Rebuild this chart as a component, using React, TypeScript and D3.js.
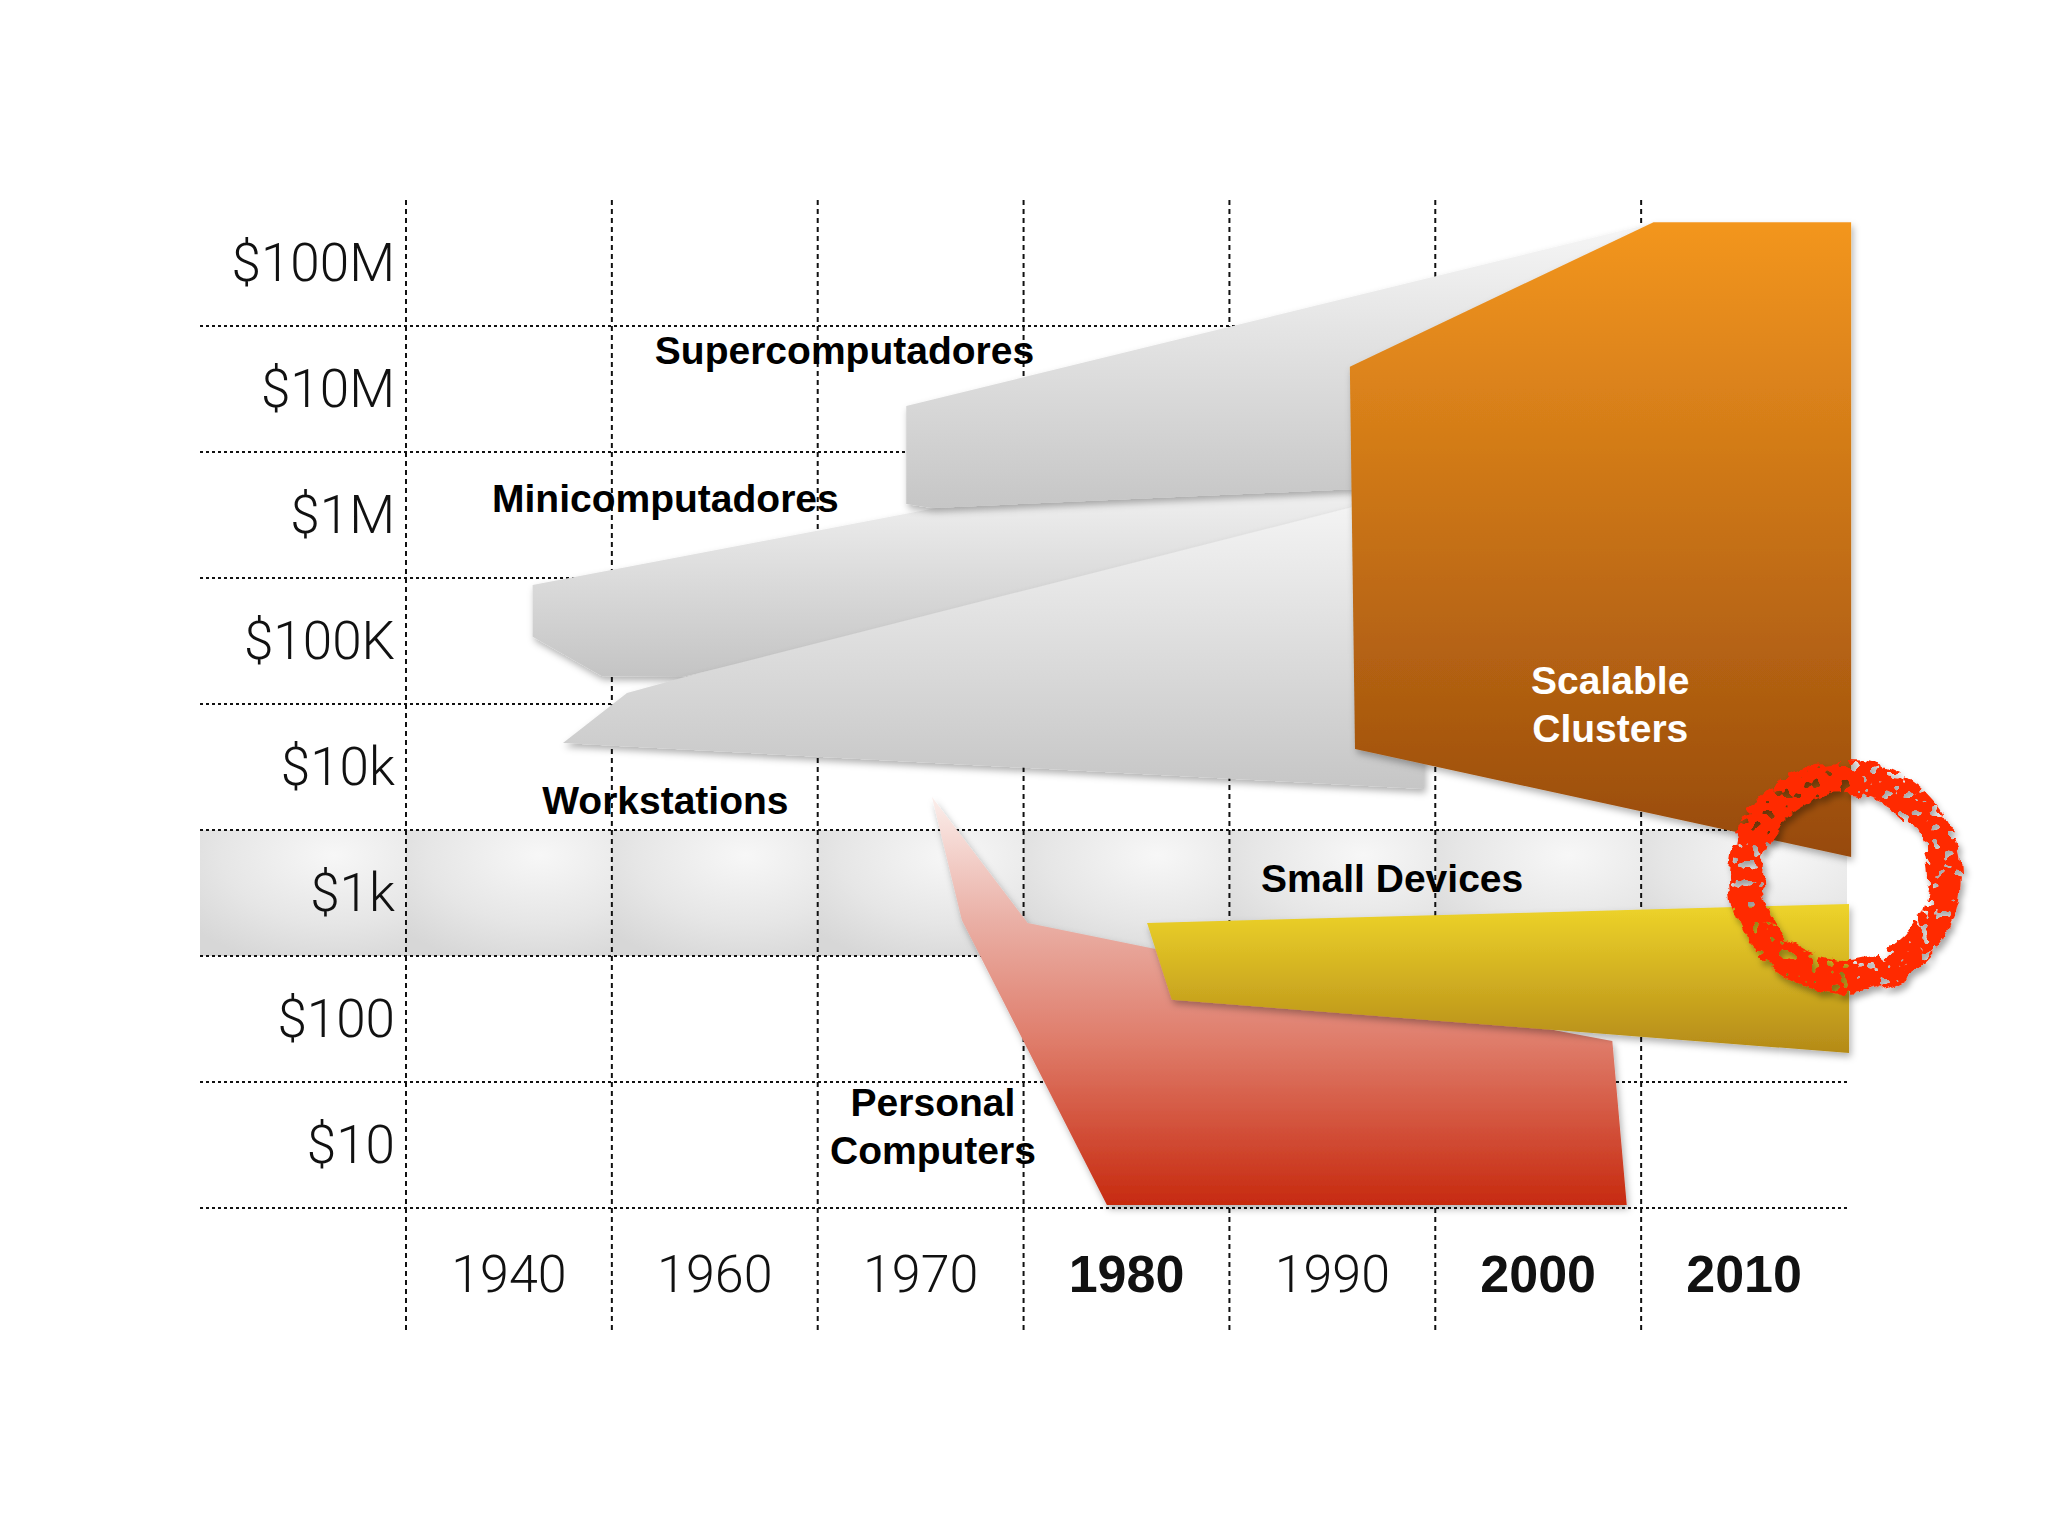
import React from "react";
import * as d3 from "d3";

// ---------- data ----------
const YEAR_BREAKS = [1930, 1950, 1965, 1975, 1985, 1995, 2005, 2015];
const YEAR_LABELS = ["1940", "1960", "1970", "1980", "1990", "2000", "2010"];
const YEAR_BOLD = [false, false, false, true, false, true, true];
const PRICE_LABELS = ["$100M", "$10M", "$1M", "$100K", "$10k", "$1k", "$100", "$10"];
const PRICE_VALUES = [1e8, 1e7, 1e6, 1e5, 1e4, 1e3, 1e2, 1e1];
const HIGHLIGHT_PRICE = 1e3;

// polygons: [year, price in $]
const MINICOMPUTERS: [number, number][] = [
  [1942.3, 2.78e5], [1973.85, 1.42e6], [1991.3, 1.9e6], [1991.3, 9.12e5],
  [1955.1, 5.18e4], [1949.0, 5.27e4], [1942.3, 1.08e5],
];
const WORKSTATIONS: [number, number][] = [
  [1945.25, 1.55e4], [1951.1, 3.86e4], [1956.4, 5.57e4], [1990.85, 1.14e6],
  [1994.45, 1.58e6], [1994.45, 6.68e3],
];
const SUPERCOMPUTERS: [number, number][] = [
  [1969.3, 7.33e6], [2005.4, 2.04e8], [2007.9, 5.08e7], [1993.3, 1.667e6],
  [1970.55, 1.138e6], [1969.3, 1.222e6],
];
const CLUSTERS: [number, number][] = [
  [1990.85, 1.5e7], [2005.6, 2.11e8], [2015.2, 2.11e8], [2015.2, 1.93e3], [1991.1, 1.39e4],
];
const PERSONAL: [number, number][] = [
  [1970.55, 5.78e3], [1975.2, 578], [2001.25, 78.9], [2003.6, 66.8],
  [2004.3, 3.34], [1979.05, 3.34], [1972.0, 611],
];
const SMALL_DEVICES: [number, number][] = [
  [1981.0, 578], [2015.1, 818], [2015.1, 53.7], [1982.2, 142],
];
const RING_CENTER: [number, number] = [2014.9, 1.34e3];

const LABELS: { text: string[]; at: [number, number]; color: string }[] = [
  { text: ["Supercomputadores"], at: [1966.3, 2.04e7], color: "#000" },
  { text: ["Minicomputadores"], at: [1953.9, 1.36e6], color: "#000" },
  { text: ["Workstations"], at: [1953.9, 5.47e3], color: "#000" },
  { text: ["Small Devices"], at: [1992.9, 1.32e3], color: "#000" },
  { text: ["Personal", "Computers"], at: [1970.6, 14.1], color: "#000" },
  { text: ["Scalable", "Clusters"], at: [2003.5, 3.16e4], color: "#fff" },
];

// ---------- layout ----------
const W = 2048;
const H = 1536;
const LEFT = 200;
const PLOT_LEFT = 406;
const STEP = 205.857;
const TOP = 200;
const BOTTOM = 1208;
const AXIS_BOTTOM = 1332;

const x = d3
  .scaleLinear()
  .domain(YEAR_BREAKS)
  .range(YEAR_BREAKS.map((_, i) => PLOT_LEFT + i * STEP));
const y = d3.scaleLog().domain([Math.pow(10, 0.5), Math.pow(10, 8.5)]).range([BOTTOM, TOP]);
const RIGHT = x(YEAR_BREAKS[YEAR_BREAKS.length - 1]);
const SQ = Math.sqrt(10);

const poly = d3
  .line<[number, number]>()
  .x((d) => x(d[0]))
  .y((d) => y(d[1]))
  .curve(d3.curveLinearClosed);

const TICK_FONT = "Roboto, 'Liberation Sans', sans-serif";
const BOLD_FONT = "'Liberation Sans', Arial, sans-serif";

export default function App() {
  const hHi = y(HIGHLIGHT_PRICE * SQ);
  const hLo = y(HIGHLIGHT_PRICE / SQ);
  const cellEdges = [LEFT, ...YEAR_BREAKS.map((yr) => x(yr))];
  const hLines = PRICE_VALUES.map((v) => y(v / SQ));
  const vLines = YEAR_BREAKS.slice(0, -1).map((yr) => x(yr));

  return (
    <svg
      width={W}
      height={H}
      style={{ position: "absolute", left: 0, top: 0, background: "#fff" }}
    >
      <defs>
        <radialGradient id="bandCell" cx="0.65" cy="0.2" r="0.9">
          <stop offset="0" stopColor="#f7f7f7" />
          <stop offset="0.6" stopColor="#e6e6e6" />
          <stop offset="1" stopColor="#d7d7d7" />
        </radialGradient>
        <linearGradient id="greyA" x1="0" y1="0" x2="0" y2="1">
          <stop offset="0" stopColor="#f6f6f6" />
          <stop offset="1" stopColor="#c6c6c6" />
        </linearGradient>
        <linearGradient id="greyB" x1="0" y1="0" x2="0" y2="1">
          <stop offset="0" stopColor="#f2f2f2" />
          <stop offset="1" stopColor="#c4c4c4" />
        </linearGradient>
        <linearGradient id="orangeG" x1="0" y1="0" x2="0" y2="1">
          <stop offset="0" stopColor="#f3961f" />
          <stop offset="1" stopColor="#974a0c" />
        </linearGradient>
        <linearGradient id="redG" x1="0" y1="0" x2="0" y2="1">
          <stop offset="0" stopColor="#fbeeeb" />
          <stop offset="0.3" stopColor="#eab0a6" />
          <stop offset="0.6" stopColor="#df7c6a" />
          <stop offset="1" stopColor="#c72a0f" />
        </linearGradient>
        <linearGradient id="yellowG" x1="0" y1="0" x2="0" y2="1">
          <stop offset="0" stopColor="#eed42a" />
          <stop offset="1" stopColor="#b48a18" />
        </linearGradient>
        <filter id="shadow" x="-10%" y="-10%" width="130%" height="130%">
          <feDropShadow dx="2" dy="4" stdDeviation="3.5" floodColor="#000" floodOpacity="0.3" />
        </filter>
        <filter id="grunge" x="-30%" y="-30%" width="160%" height="160%">
          <feTurbulence type="fractalNoise" baseFrequency="0.045" numOctaves="4" seed="4" result="noise" />
          <feDisplacementMap in="SourceGraphic" in2="noise" scale="14" xChannelSelector="R" yChannelSelector="G" result="disp" />
          <feTurbulence type="fractalNoise" baseFrequency="0.1" numOctaves="2" seed="11" result="fine" />
          <feColorMatrix in="fine" type="matrix" values="0 0 0 0 0  0 0 0 0 0  0 0 0 0 0  -40 0 0 0 25.5" result="holes" />
          <feComposite in="disp" in2="holes" operator="in" result="ring" />
          <feDropShadow in="ring" dx="3" dy="5" stdDeviation="3" floodColor="#000" floodOpacity="0.35" />
        </filter>
      </defs>

      {/* highlighted $1k band */}
      {cellEdges.slice(0, -1).map((x0, i) => (
        <rect
          key={"cell" + i}
          x={x0}
          y={hHi}
          width={cellEdges[i + 1] - x0}
          height={hLo - hHi}
          fill="url(#bandCell)"
        />
      ))}

      {/* grid */}
      {hLines.map((yy, i) => (
        <line
          key={"h" + i}
          x1={LEFT}
          x2={RIGHT}
          y1={yy}
          y2={yy}
          stroke="#111"
          strokeWidth={2}
          strokeDasharray="3 3"
        />
      ))}
      {vLines.map((xx, i) => (
        <line
          key={"v" + i}
          x1={xx}
          x2={xx}
          y1={TOP}
          y2={AXIS_BOTTOM}
          stroke="#111"
          strokeWidth={2}
          strokeDasharray="5 4"
        />
      ))}

      {/* shapes */}
      <path d={poly(MINICOMPUTERS) || ""} fill="url(#greyB)" filter="url(#shadow)" />
      <path d={poly(WORKSTATIONS) || ""} fill="url(#greyA)" filter="url(#shadow)" />
      <path d={poly(SUPERCOMPUTERS) || ""} fill="url(#greyA)" filter="url(#shadow)" />
      <path d={poly(CLUSTERS) || ""} fill="url(#orangeG)" filter="url(#shadow)" />
      <path d={poly(PERSONAL) || ""} fill="url(#redG)" filter="url(#shadow)" />
      <path d={poly(SMALL_DEVICES) || ""} fill="url(#yellowG)" filter="url(#shadow)" />

      {/* y tick labels */}
      {PRICE_LABELS.map((t, i) => (
        <text
          key={"yl" + i}
          x={PLOT_LEFT - 11}
          y={y(PRICE_VALUES[i])}
          textAnchor="end"
          dominantBaseline="central"
          fontFamily={TICK_FONT}
          fontWeight={300}
          fontSize={53}
          fill="#111"
        >
          {t}
        </text>
      ))}

      {/* x tick labels */}
      {YEAR_LABELS.map((t, i) => (
        <text
          key={"xl" + i}
          x={(x(YEAR_BREAKS[i]) + x(YEAR_BREAKS[i + 1])) / 2}
          y={BOTTOM + 66}
          textAnchor="middle"
          dominantBaseline="central"
          fontFamily={YEAR_BOLD[i] ? BOLD_FONT : TICK_FONT}
          fontWeight={YEAR_BOLD[i] ? 700 : 300}
          fontSize={52}
          fill="#111"
        >
          {t}
        </text>
      ))}

      {/* category labels */}
      {LABELS.map((l, i) => (
        <text
          key={"lab" + i}
          x={x(l.at[0])}
          y={y(l.at[1])}
          textAnchor="middle"
          dominantBaseline="central"
          fontFamily={BOLD_FONT}
          fontWeight={700}
          fontSize={39}
          fill={l.color}
        >
          {l.text.map((s, j) => (
            <tspan
              key={j}
              x={x(l.at[0])}
              dy={j === 0 ? -(l.text.length - 1) * 24 : 48}
            >
              {s}
            </tspan>
          ))}
        </text>
      ))}

      {/* red ring */}
      <circle
        cx={x(RING_CENTER[0])}
        cy={y(RING_CENTER[1])}
        r={100}
        fill="none"
        stroke="#ff2b00"
        strokeWidth={34}
        filter="url(#grunge)"
      />
    </svg>
  );
}
